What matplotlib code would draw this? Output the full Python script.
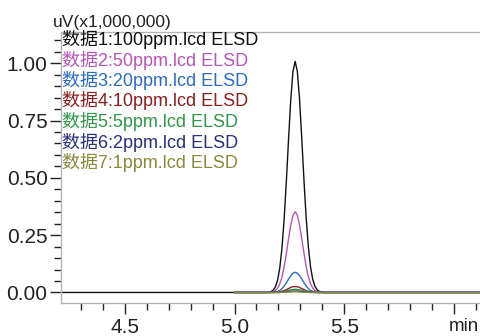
import matplotlib
matplotlib.use("Agg")
import matplotlib.pyplot as plt
from matplotlib.ticker import MultipleLocator, FixedLocator

# ---- data ----
peak_t = [5.146, 5.156, 5.166, 5.176, 5.186, 5.196, 5.206, 5.216, 5.226, 5.236, 5.246,
          5.256, 5.266, 5.276, 5.286, 5.296, 5.306, 5.316, 5.326, 5.336, 5.346, 5.356,
          5.366, 5.376, 5.386, 5.396, 5.406]

s1 = [0.000, 0.001, 0.004, 0.010, 0.024, 0.053, 0.106, 0.193, 0.320, 0.484, 0.667,
      0.839, 0.963, 1.008, 0.965, 0.845, 0.675, 0.495, 0.330, 0.202, 0.113, 0.058,
      0.027, 0.012, 0.005, 0.002, 0.000]
s2 = [0.000, 0.000, 0.001, 0.004, 0.009, 0.019, 0.037, 0.067, 0.112, 0.169, 0.233,
      0.293, 0.336, 0.352, 0.337, 0.295, 0.236, 0.173, 0.115, 0.070, 0.039, 0.020,
      0.009, 0.004, 0.002, 0.001, 0.000]
s3 = [0.000, 0.000, 0.000, 0.001, 0.002, 0.005, 0.009, 0.017, 0.028, 0.042, 0.058,
      0.073, 0.084, 0.088, 0.084, 0.074, 0.059, 0.043, 0.029, 0.017, 0.009, 0.005,
      0.002, 0.001, 0.000, 0.000, 0.000]
s4 = [0.000, 0.000, 0.000, 0.000, 0.001, 0.001, 0.003, 0.005, 0.008, 0.012, 0.017,
      0.022, 0.025, 0.026, 0.025, 0.022, 0.017, 0.013, 0.008, 0.005, 0.003, 0.001,
      0.001, 0.000, 0.000, 0.000, 0.000]
s5 = [0.000, 0.000, 0.000, 0.000, 0.000, 0.001, 0.001, 0.003, 0.004, 0.007, 0.009,
      0.012, 0.013, 0.014, 0.013, 0.012, 0.009, 0.007, 0.005, 0.003, 0.001, 0.001,
      0.000, 0.000, 0.000, 0.000, 0.000]
s6 = [0.000, 0.000, 0.000, 0.000, 0.000, 0.000, 0.000, 0.001, 0.002, 0.003, 0.004,
      0.005, 0.006, 0.006, 0.006, 0.005, 0.004, 0.003, 0.002, 0.001, 0.000, 0.000,
      0.000, 0.000, 0.000, 0.000, 0.000]
s7 = [0.000, 0.000, 0.000, 0.000, 0.000, 0.000, 0.000, 0.000, 0.001, 0.001, 0.002,
      0.002, 0.003, 0.003, 0.003, 0.002, 0.002, 0.001, 0.001, 0.000, 0.000, 0.000,
      0.000, 0.000, 0.000, 0.000, 0.000]

run_start = [4.20, 5.00, 5.00, 5.00, 5.00, 5.00, 5.00]
run_end = 6.15

labels = ["数据1:100ppm.lcd ELSD", "数据2:50ppm.lcd ELSD", "数据3:20ppm.lcd ELSD",
          "数据4:10ppm.lcd ELSD", "数据5:5ppm.lcd ELSD", "数据6:2ppm.lcd ELSD",
          "数据7:1ppm.lcd ELSD"]
colors = ["#111111", "#b855b8", "#2a6cc4", "#8c1f1f", "#2e9848", "#2c2f7c", "#8a8a3c"]
series = [s1, s2, s3, s4, s5, s6, s7]

xticks_major = [4.5, 5.0, 5.5, 6.0]
xtick_labels = ["4.5", "5.0", "5.5", ""]

# ---- figure ----
W, H = 480, 336
fig = plt.figure(figsize=(W / 100, H / 100), dpi=100)
ax = fig.add_axes([61.5 / W, 1 - 303 / H, 1 - 61.5 / W, (303 - 32) / H])

for st, s, c in zip(run_start, series, colors):
    t = [st] + peak_t + [run_end]
    y = [0.0] + s + [0.0]
    ax.plot(t, y, color=c, lw=1.0)

ax.set_xlim(4.212, 6.118)
ax.set_ylim(-0.046, 1.1365)

for side in ["left", "bottom", "top"]:
    ax.spines[side].set_color("#b4b4b4")
    ax.spines[side].set_linewidth(1.0)
ax.spines["right"].set_visible(False)

ax.xaxis.set_major_locator(FixedLocator(xticks_major))
ax.set_xticklabels(xtick_labels)
ax.xaxis.set_minor_locator(MultipleLocator(0.1))
ax.yaxis.set_major_locator(MultipleLocator(0.25))
ax.yaxis.set_minor_locator(MultipleLocator(0.05))
ax.yaxis.set_major_formatter(matplotlib.ticker.FormatStrFormatter("%.2f"))

tick_font = "Liberation Sans"
ax.tick_params(axis="both", which="major", direction="out", length=8, width=1.0,
               color="#222222", labelsize=15, pad=2)
ax.tick_params(axis="both", which="minor", direction="out", length=5, width=1.0,
               color="#222222")
ax.tick_params(axis="x", which="major", pad=3)
for lab in ax.get_xticklabels() + ax.get_yticklabels():
    lab.set_fontfamily(tick_font)
    lab.set_color("#222222")

# unit labels
fig.text(53 / W, 1 - 26.5 / H, "uV(x1,000,000)", fontsize=12.5, family=tick_font,
         color="#222222", ha="left", va="baseline")
fig.text(449 / W, 1 - 331 / H, "min", fontsize=13.5, family=tick_font,
         color="#222222", ha="left", va="baseline")

# legend-like text labels
base_y = [45, 65.5, 86, 106.5, 127, 147.5, 168]
for lab, c, by in zip(labels, colors, base_y):
    fig.text(62 / W, 1 - by / H, lab, fontsize=13, color=c,
             family=["Liberation Sans", "Noto Sans CJK SC"], ha="left", va="baseline")

fig.savefig("out.png", dpi=100)
